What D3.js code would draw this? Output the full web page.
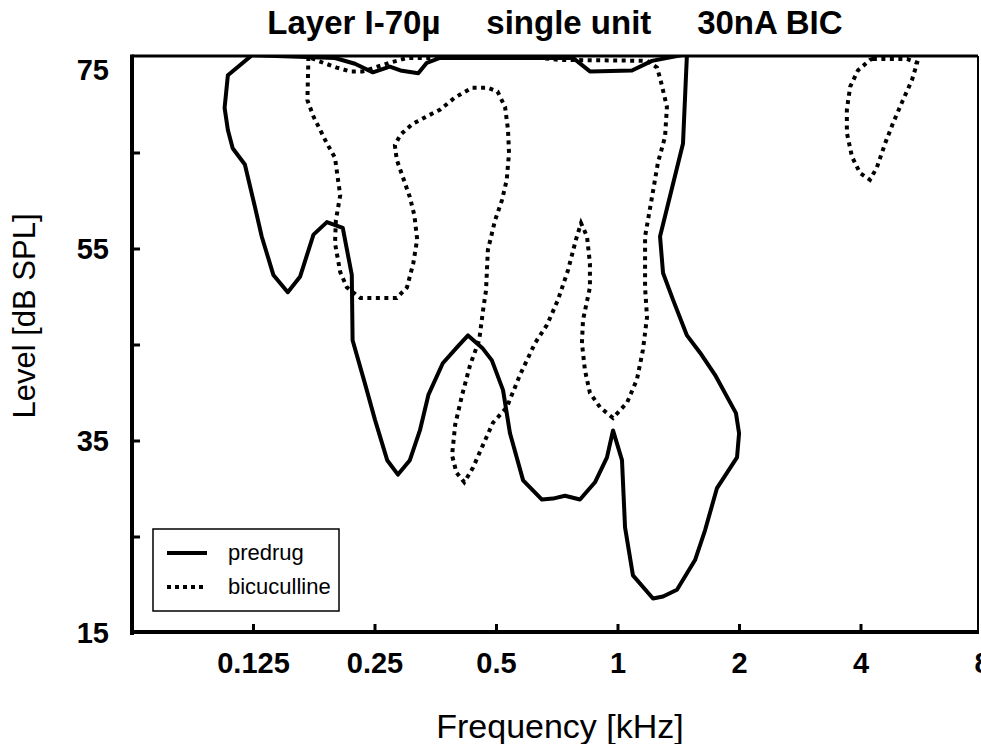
<!DOCTYPE html>
<html>
<head>
<meta charset="utf-8">
<script src="https://cdn.jsdelivr.net/npm/d3@7"></script>
<style>
  body { margin: 0; background: #fff; }
  svg { display: block; font-family: "Liberation Sans", Arial, sans-serif; }
  text { white-space: pre; }
</style>
</head>
<body>
<svg id="chart" width="981" height="744"></svg>
<script>
// Frequency response areas, tuning curve contours (kHz, dB SPL)

const xTicks = [0.125, 0.25, 0.5, 1, 2, 4, 8];
const yTicks = [15, 35, 55, 75];
const yMinorTicks = [25, 45, 65];

// solid contour, before drug
const predrug = [
    [0.124, 75.2], [0.108, 73.1], [0.106, 69.7], [0.108, 67.4], [0.111, 65.5],
    [0.119, 63.8], [0.126, 59.4], [0.131, 56.3], [0.140, 52.3], [0.152, 50.5],
    [0.163, 52.1], [0.176, 56.5], [0.190, 57.8], [0.208, 57.2], [0.219, 52.3],
    [0.220, 45.5], [0.236, 41.0], [0.250, 37.2], [0.268, 33.0], [0.285, 31.5],
    [0.305, 33.0], [0.323, 36.1], [0.339, 39.8], [0.368, 43.1], [0.400, 44.8],
    [0.425, 46.0], [0.461, 44.7], [0.487, 43.4], [0.519, 40.3], [0.540, 35.8],
    [0.582, 30.9], [0.648, 28.9], [0.690, 29.0], [0.739, 29.3], [0.805, 28.9],
    [0.877, 30.7], [0.939, 33.3], [0.972, 36.1], [1.023, 33.0], [1.041, 26.0],
    [1.089, 21.0], [1.221, 18.6], [1.293, 18.8], [1.400, 19.5], [1.552, 22.6],
    [1.643, 25.7], [1.759, 30.1], [1.972, 33.3], [1.995, 35.8], [1.960, 37.9],
    [1.739, 41.9], [1.597, 44.2], [1.482, 46.0], [1.369, 49.7], [1.293, 52.5],
    [1.271, 56.3], [1.449, 66.0], [1.482, 75.3], [1.214, 74.6], [1.083, 73.6],
    [0.852, 73.5], [0.774, 74.9], [0.362, 74.9], [0.336, 74.4], [0.320, 73.3],
    [0.289, 73.6], [0.272, 74.0], [0.247, 73.4], [0.223, 74.3], [0.199, 74.9]
];

// dotted contour, with bicuculline
const bicuculline = [
    [0.171, 75.0], [0.170, 70.5], [0.176, 68.8], [0.190, 66.0], [0.199, 64.5],
    [0.202, 62.5], [0.205, 60.6], [0.200, 58.0], [0.199, 55.6], [0.205, 52.6],
    [0.213, 51.0], [0.230, 49.9], [0.283, 49.9], [0.300, 51.0], [0.311, 53.5],
    [0.318, 56.0], [0.313, 58.5], [0.305, 60.4], [0.293, 62.5], [0.283, 64.3],
    [0.280, 65.8], [0.289, 66.9], [0.309, 68.0], [0.339, 68.9], [0.362, 69.5],
    [0.395, 70.8], [0.435, 71.8], [0.476, 71.8], [0.503, 71.4], [0.525, 69.8],
    [0.534, 67.4], [0.537, 65.0], [0.530, 62.2], [0.516, 60.1], [0.496, 58.0],
    [0.476, 54.9], [0.471, 50.7], [0.463, 48.6], [0.453, 45.5], [0.430, 42.9],
    [0.411, 39.8], [0.395, 36.7], [0.388, 33.5], [0.398, 31.7], [0.416, 30.7],
    [0.437, 32.2], [0.463, 34.6], [0.490, 36.9], [0.530, 38.5], [0.572, 41.9],
    [0.623, 45.2], [0.667, 47.1], [0.710, 49.7], [0.752, 52.8], [0.787, 56.0],
    [0.810, 57.7], [0.838, 56.3], [0.852, 53.5], [0.852, 51.0], [0.819, 47.6],
    [0.814, 45.2], [0.828, 42.4], [0.852, 40.0], [0.903, 38.5], [0.972, 37.4],
    [1.053, 39.0], [1.114, 41.4], [1.153, 44.5], [1.180, 47.9], [1.167, 51.0],
    [1.167, 56.3], [1.214, 60.4], [1.256, 64.0], [1.308, 66.7], [1.322, 69.8],
    [1.285, 72.0], [1.271, 72.8], [1.249, 73.9], [1.180, 74.6], [0.718, 74.7],
    [0.641, 74.9], [0.300, 74.9], [0.272, 74.4], [0.233, 73.5], [0.217, 73.5],
    [0.201, 73.9], [0.186, 74.4]
];

// dotted island near 4 kHz
const bicucullineHigh = [
    [4.28, 74.8], [5.20, 74.8], [5.51, 74.4], [5.35, 72.6], [5.08, 70.5],
    [4.80, 68.1], [4.59, 66.0], [4.38, 63.5], [4.21, 62.2], [3.98, 62.9],
    [3.80, 64.6], [3.69, 67.1], [3.69, 69.5], [3.76, 71.9], [3.93, 73.6],
    [4.21, 74.7]
];

const legendItems = [
    { label: 'predrug', dash: null },
    { label: 'bicuculline', dash: '4,4' }
];

const svg = d3.select('#chart');
const plotLeft = 132, plotRight = 978, plotTop = 57, plotBottom = 633;

const x = d3.scaleLog().base(2)
    .domain([0.0625, 8])
    .range([plotLeft, plotLeft + 7 * 121.5]);

const y = d3.scaleLinear()
    .domain([15, 75])
    .range([plotBottom, plotTop]);

svg.append('defs').append('clipPath')
        .attr('id', 'plot-clip')
    .append('rect')
        .attr('x', plotLeft).attr('y', plotTop)
        .attr('width', plotRight - plotLeft).attr('height', plotBottom - plotTop);

const line = d3.line()
    .x(d => x(d[0]))
    .y(d => y(d[1]))
    .curve(d3.curveLinearClosed);

const plot = svg.append('g').attr('clip-path', 'url(#plot-clip)');

plot.append('path')
    .attr('d', line(predrug))
    .attr('fill', 'none')
    .attr('stroke', '#000')
    .attr('stroke-width', 4)
    .attr('stroke-linejoin', 'round');

plot.selectAll('.bic').data([bicuculline, bicucullineHigh])
    .enter().append('path')
    .attr('class', 'bic')
    .attr('d', d => line(d))
    .attr('fill', 'none')
    .attr('stroke', '#000')
    .attr('stroke-width', 4)
    .style('stroke-dasharray', '4,4.5');

// frame
svg.append('line').attr('x1', plotLeft).attr('x2', plotRight).attr('y1', plotTop - 1).attr('y2', plotTop - 1)
    .attr('stroke', '#000').attr('stroke-width', 3);
svg.append('line').attr('x1', plotRight).attr('x2', plotRight).attr('y1', plotTop - 1).attr('y2', plotBottom)
    .attr('stroke', '#000').attr('stroke-width', 2);
svg.append('line').attr('x1', plotLeft).attr('x2', plotLeft).attr('y1', plotTop - 2.5).attr('y2', plotBottom + 2)
    .attr('stroke', '#000').attr('stroke-width', 4);
svg.append('line').attr('x1', plotLeft - 2).attr('x2', plotRight + 1).attr('y1', plotBottom - 1).attr('y2', plotBottom - 1)
    .attr('stroke', '#000').attr('stroke-width', 4);

// x ticks, pointing inward
svg.append('g').selectAll('line')
    .data(xTicks.filter(d => d < 8))
    .enter().append('line')
    .attr('x1', d => x(d)).attr('x2', d => x(d))
    .attr('y1', plotBottom - 1).attr('y2', plotBottom - 9)
    .attr('stroke', '#000').attr('stroke-width', 3);

svg.append('g').selectAll('text')
    .data(xTicks)
    .enter().append('text')
    .attr('x', d => x(d))
    .attr('y', 673)
    .attr('text-anchor', 'middle')
    .style('font-size', '29px')
    .style('font-weight', 'bold')
    .text(d => d);

// y ticks
svg.append('g').selectAll('line')
    .data(yTicks.concat(yMinorTicks).filter(d => d > 15 && d < 75))
    .enter().append('line')
    .attr('x1', plotLeft).attr('x2', plotLeft + 8)
    .attr('y1', d => y(d)).attr('y2', d => y(d))
    .attr('stroke', '#000').attr('stroke-width', 3);

svg.append('g').selectAll('text')
    .data(yTicks)
    .enter().append('text')
    .attr('x', 109)
    .attr('y', d => y(d) + (d === 75 ? 23 : 10))
    .attr('text-anchor', 'end')
    .style('font-size', '29px')
    .style('font-weight', 'bold')
    .text(d => d);

// titles
svg.append('text')
    .attr('x', 555).attr('y', 34)
    .attr('text-anchor', 'middle')
    .style('font-size', '33px')
    .style('font-weight', 'bold')
    .text('Layer I-70µ     single unit     30nA BIC');

svg.append('text')
    .attr('x', 560).attr('y', 738)
    .attr('text-anchor', 'middle')
    .style('font-size', '34px')
    .text('Frequency [kHz]');

svg.append('text')
    .attr('transform', 'translate(35,316) rotate(-90)')
    .attr('text-anchor', 'middle')
    .style('font-size', '31px')
    .text('Level [dB SPL]');

// legend
const legend = svg.append('g').attr('transform', 'translate(153,529)');

legend.append('rect')
    .attr('width', 186).attr('height', 82)
    .attr('fill', '#fff')
    .attr('stroke', '#000')
    .attr('stroke-width', 1.5);

const item = legend.selectAll('.item').data(legendItems)
    .enter().append('g')
    .attr('class', 'item')
    .attr('transform', (d, i) => `translate(0,${24 + i * 34})`);

item.append('line')
    .attr('x1', 14).attr('x2', 54)
    .attr('stroke', '#000')
    .attr('stroke-width', 4)
    .style('stroke-dasharray', d => d.dash);

item.append('text')
    .attr('x', 75).attr('y', 7)
    .style('font-size', '22px')
    .text(d => d.label);
</script>
</body>
</html>
